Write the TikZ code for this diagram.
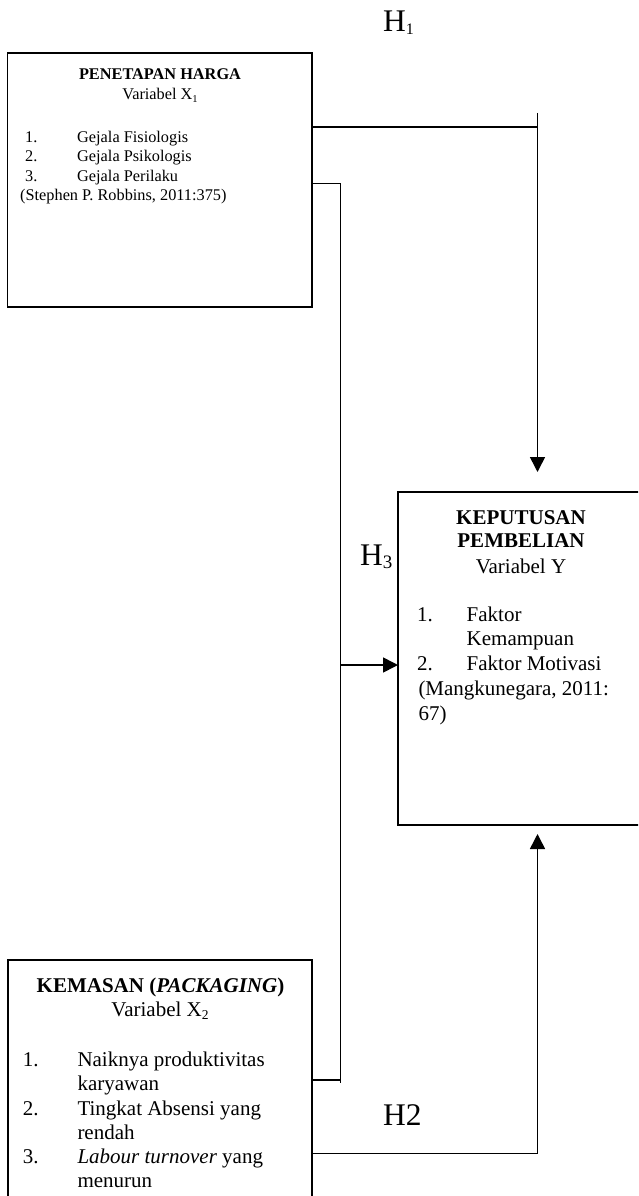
\documentclass[tikz,border=0pt]{standalone}
\usepackage{fontspec}
\setmainfont{Liberation Serif}
\usetikzlibrary{arrows.meta}
\newcommand{\mysub}[3]{\raisebox{-#1pt}{\fontsize{#2}{#2}\selectfont #3}}
\begin{document}
\begin{tikzpicture}[x=1pt,y=-1pt,
  boxstyle/.style={draw, line width=1.8pt, inner sep=0pt, outer sep=0pt, anchor=north west},
  conn/.style={line width=1.6pt},
  arr/.style={conn, -{Triangle[length=15pt,width=15pt]}},
  sm/.style={font=\fontsize{16.3}{19.5}\selectfont, inner sep=0pt, anchor=base west},
  smc/.style={sm, anchor=base},
  lg/.style={font=\fontsize{21}{24.4}\selectfont, inner sep=0pt, anchor=base west},
  lgc/.style={lg, anchor=base},
  hyp/.style={font=\fontsize{31.5}{31.5}\selectfont, inner sep=0pt, anchor=base west}]
\useasboundingbox (0,0) rectangle (638,1196);
\begin{scope}
\clip (0,0) rectangle (638,1196);
\node[boxstyle, minimum width=304.2pt, minimum height=254.3pt] (x1) at (7.5,52.7) {};
\node[boxstyle, minimum width=246pt, minimum height=333pt] (yb) at (398,492) {};
\node[boxstyle, minimum width=303.7pt, minimum height=260pt] (x2) at (8,960) {};
\end{scope}

% connectors
\coordinate (j1) at (537.5,127.3);
\coordinate (j1top) at (537.5,113);
\draw[conn] (x1.east |- j1) -- (j1);
\draw[arr, shorten >=20pt] (j1top) -- (j1top |- yb.north);

\coordinate (j3a) at (340.5,183.3);
\coordinate (j3b) at (340.5,1080);
\coordinate (j3end) at (340.5,1083);
\coordinate (j3m) at (340.5,665);
\draw[conn] (x1.east |- j3a) -- (j3a) -- (j3end);
\draw[conn] (x2.east |- j3b) -- (j3b);
\draw[arr] (j3m) -- (j3m -| yb.west);

\coordinate (j2) at (537.5,1153.5);
\draw[arr, shorten >=9pt] (x2.east |- j2) -- (j2) -- (j2 |- yb.south);

% hypothesis labels
\node[hyp] (h1) at (383,32) {H\mysub{3}{16}{1}};
\node[hyp] (h3) at (360,565.7) {H\mysub{3}{19}{3}};
\node[hyp] (h2) at (383,1125) {H2};

% box X1 text
\node[smc] (t1a) at (160,80) {\textbf{PENETAPAN HARGA}};
\node[smc] (t1b) at (160,100) {Variabel X\mysub{2}{10.5}{1}};
\node[sm] (n11) at (24.9,142.3) {1.};
\node[sm] (i11) at (77,142.3) {Gejala Fisiologis};
\node[sm] (n12) at (24.9,161.7) {2.};
\node[sm] (i12) at (77,161.7) {Gejala Psikologis};
\node[sm] (n13) at (24.9,181) {3.};
\node[sm] (i13) at (77,181) {Gejala Perilaku};
\node[sm] (c1) at (20,200.7) {(Stephen P. Robbins, 2011:375)};

% box Y text
\node[lgc] (ya) at (521,524) {\textbf{KEPUTUSAN}};
\node[lgc] (ya2) at (521,547.7) {\textbf{PEMBELIAN}};
\node[lgc] (yc) at (521,573.3) {Variabel Y};
\node[lg] (yn1) at (417,621.7) {1.};
\node[lg] (yi1) at (466.5,621.7) {Faktor};
\node[lg] (yi1b) at (466.5,645.7) {Kemampuan};
\node[lg] (yn2) at (417,670.7) {2.};
\node[lg] (yi2) at (466.5,670.7) {Faktor Motivasi};
\node[lg] (yc1) at (418.3,695) {(Mangkunegara, 2011:};
\node[lg] (yc2) at (418.3,720) {67)};

% box X2 text
\node[lgc] (xa) at (160.5,992) {\textbf{KEMASAN (\textit{PACKAGING})}};
\node[lgc] (xb) at (160,1016.7) {Variabel X\mysub{3}{13.5}{2}};
\node[lg] (xn1) at (22.7,1066.7) {1.};
\node[lg] (xi1) at (77.3,1066.7) {Naiknya produktivitas};
\node[lg] (xi1b) at (77.3,1090.5) {karyawan};
\node[lg] (xn2) at (22.7,1115) {2.};
\node[lg] (xi2) at (77.3,1115) {Tingkat Absensi yang};
\node[lg] (xi2b) at (77.3,1139) {rendah};
\node[lg] (xn3) at (22.7,1163.5) {3.};
\node[lg] (xi3) at (77.3,1163.5) {\textit{Labour turnover} yang};
\node[lg] (xi3b) at (77.3,1187.5) {menurun};
\end{tikzpicture}
\end{document}
